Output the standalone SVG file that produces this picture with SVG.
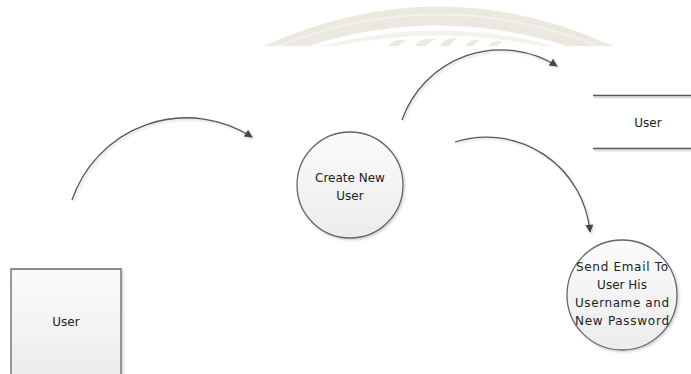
<svg xmlns="http://www.w3.org/2000/svg" width="691" height="374" viewBox="0 0 691 374">
  <defs>
    <style>
      .lbl { font-family: "DejaVu Sans", "Liberation Sans", sans-serif; font-size: 12px; fill: #222; text-anchor: middle; }
      .shape { stroke: #666; stroke-width: 1.3; fill: url(#fillGrad); filter: url(#shadow); }
      .flow { fill: none; stroke: #555; stroke-width: 1.3; marker-end: url(#arrow); filter: url(#shadow); }
      .store { stroke: #555; stroke-width: 1.3; }
      .storeShadow { stroke: #000; stroke-opacity: 0.12; stroke-width: 2; }
      .wm { fill: #ebe8df; }
    </style>
    <linearGradient id="fillGrad" x1="0" y1="0" x2="0" y2="1">
      <stop offset="0" stop-color="#fbfbfb"/>
      <stop offset="1" stop-color="#ececec"/>
    </linearGradient>
    <filter id="shadow" filterUnits="userSpaceOnUse" x="0" y="0" width="691" height="374">
      <feDropShadow dx="1.5" dy="1.5" stdDeviation="0.8" flood-color="#000" flood-opacity="0.18"/>
    </filter>
    <marker id="arrow" viewBox="0 0 10 10" refX="9" refY="5" markerWidth="10" markerHeight="8" markerUnits="userSpaceOnUse" orient="auto">
      <path d="M0,0 L10,5 L0,10 Z" fill="#444"/>
    </marker>
    <clipPath id="wmClip">
      <rect x="0" y="0" width="691" height="46"/>
    </clipPath>
  </defs>

  <rect x="0" y="0" width="691" height="374" fill="#ffffff"/>

  <!-- watermark -->
  <g id="watermark" clip-path="url(#wmClip)">
    <path class="wm" d="M262,47 Q438,-34 615,47 Z"/>
    <path d="M276,47 Q438,-18 601,47" fill="none" stroke="#f3f1ec" stroke-width="2"/>
    <path d="M305,47 Q438,4 570,47 Z" fill="#ffffff"/>
    <path d="M318,47 Q438,14 558,47 Z" fill="#f4f2ed"/>
    <path d="M332,47 Q438,24 545,47 Z" fill="#ffffff"/>
    <g fill="#ebe8df">
      <path d="M388,47 Q392,38 408,40 Q400,42 398,47 Z"/>
      <path d="M414,47 Q419,37 437,39 Q428,42 425,47 Z"/>
      <path d="M440,47 Q444,37 458,38 Q451,42 449,47 Z"/>
      <path d="M465,47 Q469,38 481,40 Q475,42 473,47 Z"/>
      <path d="M488,47 Q492,39 504,42 Q498,43 496,47 Z"/>
    </g>
  </g>

  <!-- connectors -->
  <g id="connectors">
    <path class="flow" d="M72,200 A121,121 0 0,1 252,137"/>
    <path class="flow" d="M402,120 A105,105 0 0,1 557,66"/>
    <path class="flow" d="M455,142 A104,104 0 0,1 590,232"/>
  </g>

  <!-- external entity: User (bottom left) -->
  <g id="user-entity">
    <path class="shape" d="M11,380 L11,269 L121,269 L121,380"/>
    <text class="lbl" x="66" y="326">User</text>
  </g>

  <!-- process: Create New User -->
  <g id="create-new-user">
    <circle class="shape" cx="350" cy="185" r="53"/>
    <text class="lbl" x="350" y="182">Create New</text>
    <text class="lbl" x="350" y="200">User</text>
  </g>

  <!-- data store: User -->
  <g id="user-store">
    <line class="storeShadow" x1="594" y1="97.5" x2="691" y2="97.5"/>
    <line class="storeShadow" x1="594" y1="150.5" x2="691" y2="150.5"/>
    <line class="store" x1="593" y1="95.5" x2="691" y2="95.5"/>
    <line class="store" x1="593" y1="148.5" x2="691" y2="148.5"/>
    <text class="lbl" x="648" y="127">User</text>
  </g>

  <!-- process: Send Email -->
  <g id="send-email">
    <circle class="shape" cx="622" cy="295" r="55"/>
    <text class="lbl" x="622" y="271" textLength="92" lengthAdjust="spacing">Send Email To</text>
    <text class="lbl" x="622" y="289">User His</text>
    <text class="lbl" x="622" y="307" textLength="94" lengthAdjust="spacing">Username and</text>
    <text class="lbl" x="622" y="325" textLength="94" lengthAdjust="spacing">New Password</text>
  </g>
</svg>
